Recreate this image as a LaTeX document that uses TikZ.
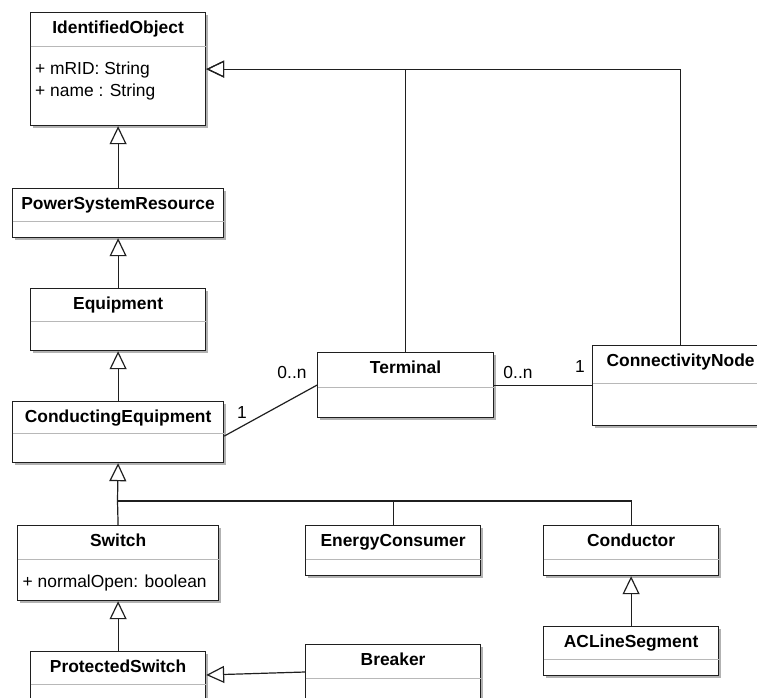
\documentclass[tikz,border=0pt]{standalone}
\usepackage{fontspec}
\setmainfont{Liberation Sans}
\usetikzlibrary{arrows.meta,shadows}
\tikzset{
  classbox/.style={draw=black!88, line width=1.2pt, fill=white, anchor=north west,
    inner sep=0pt, general shadow={fill=black!30, shadow xshift=2.5pt, shadow yshift=-2.5pt}},
  divider/.style={draw=black!28, line width=1pt},
  ctitle/.style={anchor=base, font=\fontsize{17.4}{20}\selectfont\bfseries, inner sep=0pt},
  attr/.style={anchor=base west, font=\fontsize{17.4}{20}\selectfont, inner sep=0pt},
  mult/.style={anchor=base, font=\fontsize{17.4}{20}\selectfont, inner sep=0pt},
  link/.style={draw=black!88, line width=1.2pt},
  inh/.style={link, -{Triangle[open, length=18pt, width=17pt, line width=1.2pt]}},
}
% #1 name, #2 left, #3 top, #4 width, #5 height, #6 divider offset, #7 title
\newcommand\umlclass[7]{%
  \node[classbox, minimum width=#4pt, minimum height=#5pt] (#1) at (#2,#3) {};
  \draw[divider] ([yshift=-#6pt,xshift=0.6pt]#1.north west) -- ([yshift=-#6pt,xshift=-0.6pt]#1.north east);
  \node[ctitle] (#1-title) at ([yshift=-21.5pt]#1.north) {#7};
}
\begin{document}
\begin{tikzpicture}[x=1pt, y=-1pt]
  \useasboundingbox (0,0) rectangle (757,697);
  \clip (0,0) rectangle (757,697);
  \fill[white] (0,0) rectangle (757,697);

  % classes
  \umlclass{io}{30}{12}{175}{113}{34}{IdentifiedObject}
  \umlclass{psr}{12}{188}{211}{49}{33}{PowerSystemResource}
  \umlclass{eq}{30}{288}{175}{62}{33}{Equipment}
  \umlclass{ce}{12}{401}{211}{61}{32}{ConductingEquipment}
  \umlclass{term}{317}{352}{176}{65}{35}{Terminal}
  \umlclass{cn}{592}{345}{176}{80}{38}{ConnectivityNode}
  \umlclass{sw}{17}{525}{201}{75}{34}{Switch}
  \umlclass{ec}{305}{525}{175}{50}{34}{EnergyConsumer}
  \umlclass{cond}{543}{525}{175}{50}{34}{Conductor}
  \umlclass{acl}{543}{626}{175}{49}{33}{ACLineSegment}
  \umlclass{ps}{30}{651}{175}{70}{33}{ProtectedSwitch}
  \umlclass{br}{305}{644}{175}{70}{34}{Breaker}

  % attributes
  \node[attr] (io-a1) at (35,74) {+ mRID: String};
  \node[attr] (io-a2) at (35,96) {+ name : String};
  \node[attr] (sw-a1) at (22.5,587) {+ normalOpen: boolean};

  % generalizations
  \draw[inh] (psr) -- (io);
  \draw[inh] (eq) -- (psr);
  \draw[inh] (ce) -- (eq);
  \coordinate (bus) at (117.5,501);
  \draw[inh] (bus) -- (ce.south);
  \draw[link] (sw.north) -- (bus);
  \draw[link] (bus) -| (ec.north);
  \draw[link] (bus) -| (cond.north);
  \draw[inh] (acl) -- (cond);
  \draw[inh] (ps) -- (sw);
  \draw[inh] (br.west |- 0,672) -- (ps.east |- 0,675);
  \draw[inh] (term.north) |- (io.east);
  \draw[inh] (cn.north) |- (io.east);

  % associations
  \draw[link] ([yshift=-4pt]ce.east) -- (term.west);
  \draw[link] (term.east) -- (cn.west |- term.east);
  \node[mult] (m-ce) at (242,418) {1};
  \node[mult] (m-tl) at (292,378) {0..n};
  \node[mult] (m-tr) at (518,378) {0..n};
  \node[mult] (m-cn) at (580,372) {1};
\end{tikzpicture}
\end{document}
